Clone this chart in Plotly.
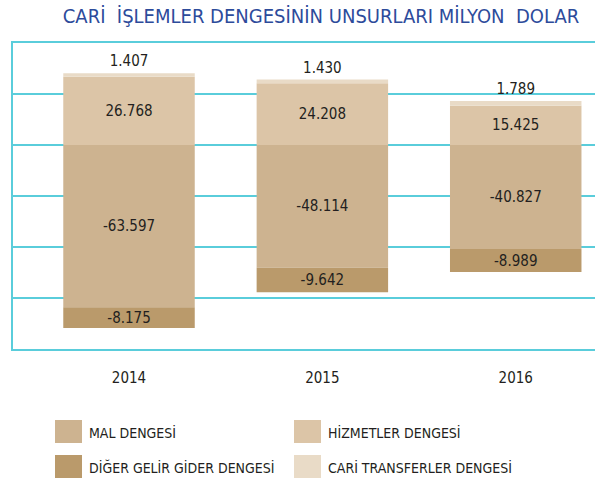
import plotly.graph_objects as go

years = ["2014", "2015", "2016"]
mal = [-63597, -48114, -40827]
hizmet = [26768, 24208, 15425]
diger = [-8175, -9642, -8989]
cari = [1407, 1430, 1789]
names = ["MAL DENGESİ", "HİZMETLER DENGESİ", "DİĞER GELİR GİDER DENGESİ", "CARİ TRANSFERLER DENGESİ"]
colors = ["#CDB390", "#DCC5A7", "#BA9A6B", "#E9DBC7"]
title = "CARİ  İŞLEMLER DENGESİNİN UNSURLARI MİLYON  DOLAR"

FONT = "DejaVu Sans Condensed, sans-serif"
TXT = "#231F20"
GRID = "#5ACDDB"

W, H = 595, 483
L, R, T, B = 13, 0, 43, 134
pw, ph = W - L - R, H - T - B

def px(x):
    return (x - L) / pw

def py(y):
    return (H - B - y) / ph

xs = list(range(len(years)))
fig = go.Figure()
series = [mal, hizmet, diger, cari]
for i, (vals, nm, col) in enumerate(zip(series, names, colors)):
    fig.add_trace(go.Bar(
        x=xs, y=vals, name=nm, marker=dict(color=col, line=dict(width=0)),
        width=0.68,
        texttemplate="%{y:,.0f}",
        textposition="outside" if i == 3 else "inside",
        insidetextanchor="middle",
        textangle=0,
        constraintext="none",
        cliponaxis=False,
        textfont=dict(family=FONT, size=15, color=TXT),
        showlegend=False,
    ))

# legend drawn as swatches + labels
leg_pos = [(55, 420), (294, 420), (55, 455), (294, 455)]
for (lx, ly), nm, col in zip(leg_pos, names, colors):
    fig.add_shape(type="rect", xref="paper", yref="paper",
                  x0=px(lx), x1=px(lx + 27), y0=py(ly), y1=py(ly + 23),
                  fillcolor=col, line=dict(width=0))
    fig.add_annotation(xref="paper", yref="paper", x=px(lx + 32), y=py(ly + 12),
                       text=nm, showarrow=False, xanchor="left", yanchor="middle",
                       font=dict(family=FONT, size=14, color=TXT))

fig.update_layout(
    width=W, height=H,
    margin=dict(l=L, r=R, t=T, b=B),
    barmode="relative",
    separators=",.",
    plot_bgcolor="white", paper_bgcolor="white",
    title=dict(text=title, x=px(321), xref="paper", xanchor="center",
               y=1 - 16 / H, yanchor="middle",
               font=dict(family=FONT, size=20, color="#2D4B9B")),
    xaxis=dict(range=[-0.6, 2.41], tickvals=xs, ticktext=years, showgrid=False,
               zeroline=False, showline=True, mirror=True, linecolor=GRID,
               linewidth=2, ticks="", ticklabelstandoff=14,
               tickfont=dict(family=FONT, size=15, color=TXT)),
    yaxis=dict(range=[-80000, 40000], dtick=20000, showticklabels=False,
               showgrid=True, gridcolor=GRID, gridwidth=1.5,
               zeroline=True, zerolinecolor=GRID, zerolinewidth=1.5,
               showline=True, linecolor=GRID, linewidth=2, ticks=""),
)

fig.write_html("out.html", post_script="document.body.style.margin='0';",
               config={"displayModeBar": False})
